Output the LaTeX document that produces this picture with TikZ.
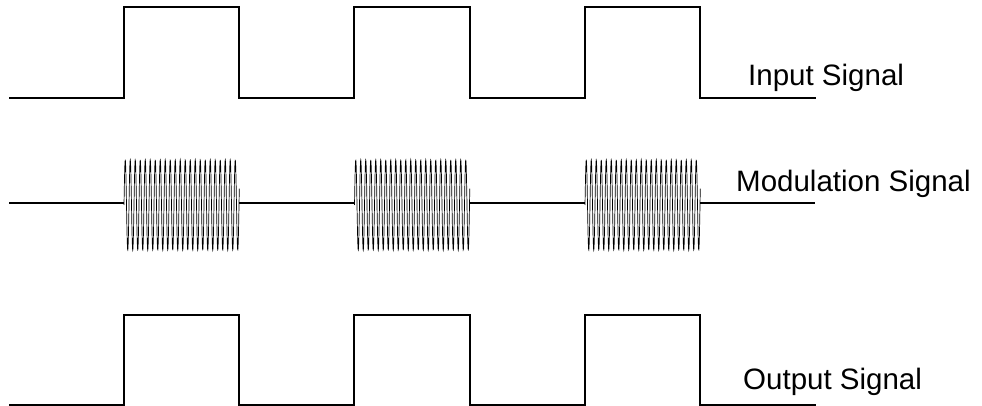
\documentclass[tikz,border=0pt]{standalone}
\usepackage{fontspec}
\setmainfont{Liberation Sans}
\begin{document}
\begin{tikzpicture}[x=1pt,y=-1pt,
  wave/.style={line width=1.5pt, line join=miter, black},
  burst/.style={line width=0.7pt, black},
  lbl/.style={anchor=base west, inner sep=0pt, font=\fontsize{29.5}{32}\selectfont}]
\useasboundingbox (0,0) rectangle (982,406);
% Input signal
\draw[wave] (9,98) -- (124,98) -- (124,7) -- (239,7) -- (239,98) -- (354,98) -- (354,7) -- (470,7) -- (470,98) -- (585,98) -- (585,7) -- (700,7) -- (700,98) -- (816,98);
% Modulation signal baseline
\draw[wave] (9,203) -- (124,203);
\draw[wave] (239,203) -- (354,203);
\draw[wave] (470,203) -- (585,203);
\draw[wave] (700,203) -- (815,203);
% bursts
\foreach \s in {124,354.5,585}{
  \draw[burst] plot[domain=0:115.3, samples=700, smooth] ({\s+\x}, {205 - 45*sin(\x*72)});
}
% Output signal
\draw[wave] (9,405) -- (124,405) -- (124,315) -- (239,315) -- (239,405) -- (354,405) -- (354,315) -- (470,315) -- (470,405) -- (585,405) -- (585,315) -- (700,315) -- (700,405) -- (816,405);
% labels
\node[lbl] (in) at (748,86) {Input Signal};
\node[lbl] (mod) at (736,192) {Modulation Signal};
\node[lbl] (out) at (743,389) {Output Signal};
\end{tikzpicture}
\end{document}
